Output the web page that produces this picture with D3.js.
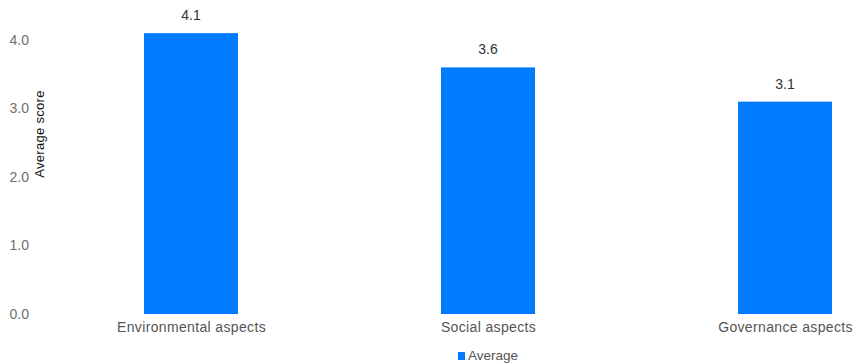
<!DOCTYPE html>
<html>
<head>
<meta charset="utf-8">
<script src="https://cdn.jsdelivr.net/npm/d3@7"></script>
<style>
  html, body { margin: 0; padding: 0; background: #fff; }
  svg { display: block; font-family: "Liberation Sans", Arial, sans-serif; }
</style>
</head>
<body>
<svg id="chart" width="855" height="364"></svg>
<script>
// Average score per ESG dimension
const categories = ["Environmental aspects", "Social aspects", "Governance aspects"];
const averages = [4.1, 3.6, 3.1];
const yTicks = [0, 1, 2, 3, 4];
const seriesName = "Average";

const svg = d3.select("#chart");
const barColor = "#007bff";
const font = "Liberation Sans, Arial, sans-serif";

const x = d3.scalePoint().domain(categories).range([191, 785]);
const barWidth = 94;
const y = d3.scaleLinear().domain([0, 4]).range([314, 40]);

// y-axis tick labels (no axis line)
const yAxis = d3.axisLeft(y).tickValues(yTicks).tickFormat(d3.format(".1f")).tickSize(0).tickPadding(0);
const gy = svg.append("g").attr("transform", "translate(29,0)").call(yAxis);
gy.select(".domain").remove();
gy.selectAll("text").attr("fill", "#6e6e6e").attr("font-size", 14).attr("font-family", font);

// y-axis title
svg.append("text")
  .attr("transform", "translate(44,134) rotate(-90)")
  .attr("text-anchor", "middle")
  .attr("font-size", 13)
  .attr("letter-spacing", 0.3)
  .attr("fill", "#111")
  .text("Average score");

// bars
svg.append("g").selectAll("rect")
  .data(categories)
  .join("rect")
  .attr("x", (d) => x(d) - barWidth / 2)
  .attr("width", barWidth)
  .attr("y", (d, i) => y(averages[i]))
  .attr("height", (d, i) => y(0) - y(averages[i]))
  .attr("fill", barColor);

// value labels
svg.append("g").selectAll("text")
  .data(categories)
  .join("text")
  .attr("x", (d) => x(d))
  .attr("y", (d, i) => y(averages[i]) - 13)
  .attr("text-anchor", "middle")
  .attr("font-size", 14)
  .attr("fill", "#333")
  .text((d, i) => d3.format(".1f")(averages[i]));

// category labels
const xAxis = d3.axisBottom(x).tickSize(0).tickPadding(0);
const gx = svg.append("g").attr("transform", "translate(0,332)").call(xAxis);
gx.select(".domain").remove();
gx.selectAll("text").attr("dy", 0).attr("fill", "#555").attr("font-size", 14)
  .attr("letter-spacing", 0.35).attr("font-family", font);

// legend
const legend = svg.append("g").attr("transform", "translate(458,352)");
legend.append("rect").attr("x", 0).attr("y", 0).attr("width", 7).attr("height", 8).attr("fill", barColor);
legend.append("text").attr("x", 10).attr("y", 8).attr("font-size", 13.5).attr("fill", "#555").text(seriesName);
</script>
</body>
</html>
